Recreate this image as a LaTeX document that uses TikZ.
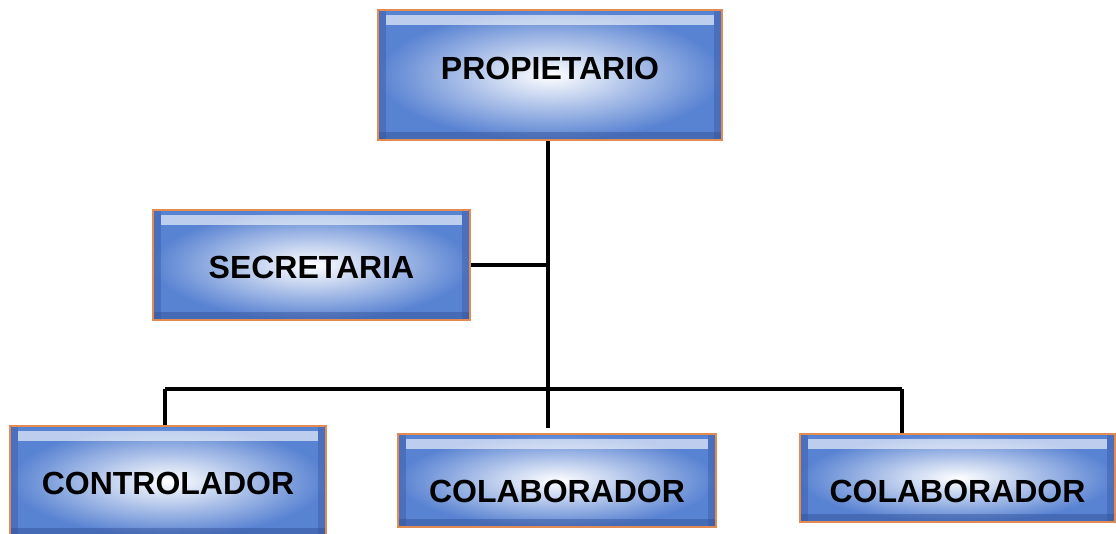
\documentclass[tikz,border=0pt]{standalone}
\usepackage{fontspec}
\setmainfont{Liberation Sans}
\usepackage{tikz}
\usetikzlibrary{positioning}
\usetikzlibrary{shapes,calc}

\definecolor{boxedge}{RGB}{226,140,84}
\definecolor{boxblue}{RGB}{88,130,210}
\definecolor{boxdark}{RGB}{50,80,150}

\begin{document}
\begin{tikzpicture}[x=0.75pt,y=-0.75pt,
  box/.style={rectangle,draw=boxedge,line width=1.5pt,inner color=white,outer color=boxblue,
    font=\bfseries\fontsize{24}{28}\selectfont,
    path picture={
      \fill[white,opacity=0.6] ([xshift=6pt,yshift=-4pt]path picture bounding box.north west) rectangle ([xshift=-6pt,yshift=-11pt]path picture bounding box.north east);
      \fill[boxdark,opacity=0.45] ([yshift=6pt]path picture bounding box.south west) rectangle (path picture bounding box.south east);
      \fill[boxdark,opacity=0.35] (path picture bounding box.north west) rectangle ([xshift=6pt]path picture bounding box.south west);
      \fill[boxdark,opacity=0.35] ([xshift=-6pt]path picture bounding box.north east) rectangle (path picture bounding box.south east);
    }},
  link/.style={line width=3pt,black}]
\useasboundingbox (0,0) rectangle (1116,533);
\node[box,minimum width=258pt,minimum height=97.5pt] at (550,75) (prop) {\raisebox{-3.5pt}[0pt][0pt]{PROPIETARIO}};
\node[box,minimum width=238pt,minimum height=82.5pt] at (311.5,265) (sec) {\raisebox{-10pt}[0pt][0pt]{SECRETARIA}};
\node[box,minimum width=237pt,minimum height=82.5pt] at (168,481) (ctrl) {\raisebox{-10pt}[0pt][0pt]{CONTROLADOR}};
\node[box,minimum width=238.5pt,minimum height=70pt] at (557,480.5) (colA) {\raisebox{-16.5pt}[0pt][0pt]{COLABORADOR}};
\node[box,minimum width=236pt,minimum height=66pt] at (957.5,478) (colB) {\raisebox{-18.5pt}[0pt][0pt]{COLABORADOR}};
\coordinate (trunk) at (548,389);
\coordinate (busL) at (165,389);
\coordinate (busR) at (902,389);
\draw[link] (prop.south -| trunk) -- (trunk);
\draw[link] (sec.east) -- (sec.east -| trunk);
\draw[link] (busL) -- (busR);
\draw[link] (busL) -- (ctrl.north -| busL);
\draw[link] (trunk) -- ([yshift=4pt]colA.north -| trunk);
\draw[link] (busR) -- (colB.north -| busR);
\end{tikzpicture}
\end{document}
